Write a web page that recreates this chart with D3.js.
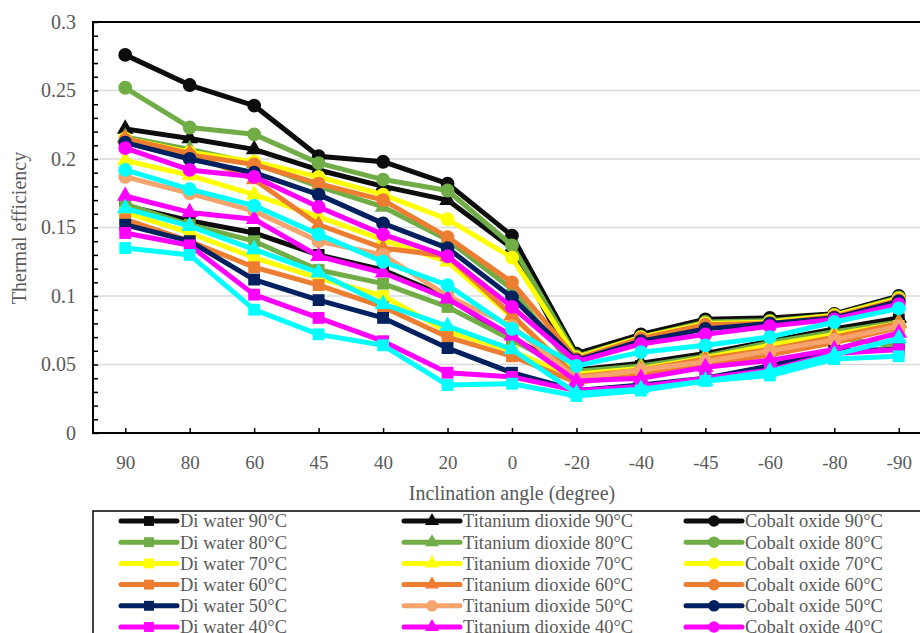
<!DOCTYPE html>
<html>
<head>
<meta charset="utf-8">
<script src="https://cdn.jsdelivr.net/npm/d3@7"></script>
<style>
  html, body { margin: 0; padding: 0; background: #fff; }
  svg { display: block; }
  svg text { font-family: "Liberation Serif", "Times New Roman", serif; }
</style>
</head>
<body>
<svg id="chart" width="920" height="633"></svg>
<script>
// Inclination angles (categories along the x axis)
const angles = ["90", "80", "60", "45", "40", "20", "0", "-20", "-40", "-45", "-60", "-80", "-90"];

// Thermal efficiency — distilled water
const diWater90 = [0.166, 0.155, 0.146, 0.130, 0.119, 0.099, 0.069, 0.045, 0.049, 0.057, 0.064, 0.075, 0.083];
const diWater80 = [0.167, 0.152, 0.140, 0.119, 0.109, 0.092, 0.068, 0.043, 0.046, 0.054, 0.062, 0.070, 0.063];
const diWater70 = [0.161, 0.146, 0.128, 0.113, 0.100, 0.074, 0.060, 0.040, 0.044, 0.052, 0.058, 0.066, 0.078];
const diWater60 = [0.156, 0.140, 0.121, 0.108, 0.092, 0.070, 0.056, 0.037, 0.042, 0.050, 0.057, 0.066, 0.077];
const diWater50 = [0.152, 0.140, 0.112, 0.097, 0.084, 0.062, 0.044, 0.031, 0.035, 0.040, 0.049, 0.060, 0.061];
const diWater40 = [0.146, 0.137, 0.101, 0.084, 0.067, 0.044, 0.041, 0.031, 0.034, 0.040, 0.046, 0.058, 0.061];
const diWater30 = [0.135, 0.130, 0.090, 0.072, 0.064, 0.035, 0.036, 0.027, 0.031, 0.038, 0.042, 0.054, 0.056];

// Thermal efficiency — titanium dioxide nanofluid
const tio2_90 = [0.222, 0.215, 0.207, 0.192, 0.180, 0.170, 0.135, 0.046, 0.051, 0.058, 0.067, 0.076, 0.084];
const tio2_80 = [0.216, 0.207, 0.197, 0.180, 0.165, 0.141, 0.105, 0.045, 0.049, 0.056, 0.066, 0.074, 0.081];
const tio2_70 = [0.199, 0.188, 0.174, 0.158, 0.141, 0.125, 0.085, 0.043, 0.047, 0.055, 0.064, 0.072, 0.080];
const tio2_60 = [0.215, 0.204, 0.185, 0.152, 0.135, 0.129, 0.086, 0.041, 0.046, 0.054, 0.061, 0.070, 0.080];
const tio2_50 = [0.187, 0.175, 0.162, 0.140, 0.130, 0.100, 0.078, 0.040, 0.046, 0.052, 0.060, 0.068, 0.078];
const tio2_40 = [0.173, 0.161, 0.156, 0.129, 0.117, 0.098, 0.071, 0.038, 0.040, 0.048, 0.053, 0.061, 0.073];
const tio2_30 = [0.164, 0.151, 0.134, 0.117, 0.094, 0.078, 0.061, 0.029, 0.032, 0.038, 0.045, 0.057, 0.069];

// Thermal efficiency — cobalt oxide nanofluid
const co3o4_90 = [0.276, 0.254, 0.239, 0.202, 0.198, 0.182, 0.144, 0.058, 0.072, 0.083, 0.084, 0.087, 0.100];
const co3o4_80 = [0.252, 0.223, 0.218, 0.197, 0.185, 0.177, 0.137, 0.056, 0.070, 0.081, 0.082, 0.086, 0.099];
const co3o4_70 = [0.215, 0.205, 0.198, 0.187, 0.174, 0.156, 0.128, 0.055, 0.070, 0.080, 0.081, 0.086, 0.098];
const co3o4_60 = [0.214, 0.203, 0.196, 0.182, 0.170, 0.143, 0.110, 0.054, 0.069, 0.079, 0.080, 0.085, 0.097];
const co3o4_50 = [0.212, 0.200, 0.190, 0.174, 0.153, 0.135, 0.099, 0.053, 0.067, 0.076, 0.080, 0.084, 0.096];
const co3o4_40 = [0.208, 0.192, 0.187, 0.165, 0.145, 0.129, 0.092, 0.052, 0.065, 0.072, 0.078, 0.083, 0.094];
const co3o4_30 = [0.192, 0.178, 0.166, 0.145, 0.125, 0.108, 0.076, 0.049, 0.059, 0.064, 0.070, 0.081, 0.091];

// Y axis tick labels
const yTicks = [0, 0.05, 0.1, 0.15, 0.2, 0.25, 0.3];

// Colours per inlet temperature
const C = {
  t90: "#0d0d0d", t80: "#70AD47", t70: "#FFFF00", t60: "#ED7D31",
  t50: "#002060", t40: "#FF00FF", t30: "#00FFFF", light: "#F4A46C"
};

// Series in legend/draw order
const series = [
  { name: "Di water 90°C", values: diWater90, color: C.t90, shape: "square" },
  { name: "Titanium dioxide 90°C", values: tio2_90, color: C.t90, shape: "triangle" },
  { name: "Cobalt oxide 90°C", values: co3o4_90, color: C.t90, shape: "circle" },
  { name: "Di water 80°C", values: diWater80, color: C.t80, shape: "square" },
  { name: "Titanium dioxide 80°C", values: tio2_80, color: C.t80, shape: "triangle" },
  { name: "Cobalt oxide 80°C", values: co3o4_80, color: C.t80, shape: "circle" },
  { name: "Di water 70°C", values: diWater70, color: C.t70, shape: "square" },
  { name: "Titanium dioxide 70°C", values: tio2_70, color: C.t70, shape: "triangle" },
  { name: "Cobalt oxide 70°C", values: co3o4_70, color: C.t70, shape: "circle" },
  { name: "Di water 60°C", values: diWater60, color: C.t60, shape: "square" },
  { name: "Titanium dioxide 60°C", values: tio2_60, color: C.t60, shape: "triangle" },
  { name: "Cobalt oxide 60°C", values: co3o4_60, color: C.t60, shape: "circle" },
  { name: "Di water 50°C", values: diWater50, color: C.t50, shape: "square" },
  { name: "Titanium dioxide 50°C", values: tio2_50, color: C.light, shape: "circle" },
  { name: "Cobalt oxide 50°C", values: co3o4_50, color: C.t50, shape: "circle" },
  { name: "Di water 40°C", values: diWater40, color: C.t40, shape: "square" },
  { name: "Titanium dioxide 40°C", values: tio2_40, color: C.t40, shape: "triangle" },
  { name: "Cobalt oxide 40°C", values: co3o4_40, color: C.t40, shape: "circle" },
  { name: "Di water 30°C", values: diWater30, color: C.t30, shape: "square" },
  { name: "Titanium dioxide 30°C", values: tio2_30, color: C.t30, shape: "triangle" },
  { name: "Cobalt oxide 30°C", values: co3o4_30, color: C.t30, shape: "circle" }
];

const svg = d3.select("#chart");
const plot = { left: 93, right: 931, top: 22, bottom: 433 };
const textColor = "#595959";
const serif = "Liberation Serif";

const x = d3.scalePoint().domain(angles).range([plot.left, plot.right]).padding(0.5);
const y = d3.scaleLinear().domain([0, 0.3]).range([plot.bottom, plot.top]);

const symbolType = { square: d3.symbolSquare, triangle: d3.symbolTriangle, circle: d3.symbolCircle };
const symbolSize = { square: 140, triangle: 120, circle: 150 };

// Horizontal gridlines
svg.append("g")
  .selectAll("line")
  .data(yTicks.slice(1))
  .join("line")
  .attr("x1", plot.left).attr("x2", plot.right)
  .attr("y1", d => y(d)).attr("y2", d => y(d))
  .attr("stroke", "#d9d9d9").attr("stroke-width", 1.5);

// Plot frame
svg.append("rect")
  .attr("x", plot.left).attr("y", plot.top)
  .attr("width", plot.right - plot.left).attr("height", plot.bottom - plot.top)
  .attr("fill", "none").attr("stroke", "#000").attr("stroke-width", 2);

// Y axis: minor inward ticks every 0.01 and labels every 0.05
const yMinor = d3.axisLeft(y).tickValues(d3.range(0, 0.3001, 0.01)).tickSize(-5).tickFormat("");
svg.append("g").attr("transform", `translate(${plot.left},0)`).call(yMinor)
  .call(g => g.select(".domain").remove())
  .call(g => g.selectAll(".tick line").attr("stroke", "#000").attr("stroke-width", 1.5));

const yAxis = d3.axisLeft(y).tickValues(yTicks).tickSize(0).tickPadding(17)
  .tickFormat(d => String(+d.toFixed(2)));
svg.append("g").attr("transform", `translate(${plot.left},0)`).call(yAxis)
  .attr("font-family", serif).attr("font-size", 20)
  .call(g => g.select(".domain").remove())
  .call(g => g.selectAll("text").attr("fill", textColor));

// X axis: inward ticks at each category and labels below
const xAxis = d3.axisBottom(x).tickSize(-5).tickPadding(0);
svg.append("g").attr("transform", `translate(0,${plot.bottom})`).call(xAxis)
  .attr("font-family", serif).attr("font-size", 19)
  .call(g => g.select(".domain").remove())
  .call(g => g.selectAll(".tick line").attr("stroke", "#000").attr("stroke-width", 1.5))
  .call(g => g.selectAll("text").attr("fill", textColor).attr("y", 0).attr("dy", "36px"));

// Axis titles
svg.append("text")
  .attr("x", 512).attr("y", 500)
  .attr("text-anchor", "middle").attr("fill", textColor)
  .attr("font-family", serif).attr("font-size", 20)
  .text("Inclination angle (degree)");

svg.append("text")
  .attr("transform", "translate(26,228) rotate(-90)")
  .attr("text-anchor", "middle").attr("fill", textColor)
  .attr("font-family", serif).attr("font-size", 20)
  .text("Thermal efficiency");

// Series lines and markers
const line = d3.line().x((d, i) => x(angles[i])).y(d => y(d));
const seriesG = svg.append("g");
series.forEach(s => {
  const g = seriesG.append("g");
  g.append("path")
    .attr("d", line(s.values))
    .attr("fill", "none").attr("stroke", s.color)
    .attr("stroke-width", 5).attr("stroke-linejoin", "round");
  g.selectAll("path.m")
    .data(s.values)
    .join("path").attr("class", "m")
    .attr("transform", (d, i) => `translate(${x(angles[i])},${y(d)})`)
    .attr("d", d3.symbol(symbolType[s.shape], symbolSize[s.shape]))
    .attr("fill", s.color);
});

// Legend box and entries (three columns)
const legend = svg.append("g").attr("font-family", serif);
legend.append("rect")
  .attr("x", 93).attr("y", 511).attr("width", 860).attr("height", 200)
  .attr("fill", "#fff").attr("stroke", "#000").attr("stroke-width", 1.5);

const colX = [121, 404, 686];
const rowY0 = 521, rowStep = 21.2;
series.forEach((s, i) => {
  const col = i % 3, row = Math.floor(i / 3);
  const lx = colX[col], ly = rowY0 + row * rowStep;
  const g = legend.append("g").attr("transform", `translate(${lx},${ly})`);
  g.append("line").attr("x1", 0).attr("x2", 56).attr("y1", 0).attr("y2", 0)
    .attr("stroke", s.color).attr("stroke-width", 5).attr("stroke-linecap", "round");
  g.append("path").attr("transform", "translate(28,0)")
    .attr("d", d3.symbol(symbolType[s.shape], symbolSize[s.shape] * 0.7))
    .attr("fill", s.color);
  g.append("text").attr("x", 59).attr("y", 0).attr("dy", "0.35em")
    .attr("fill", textColor).attr("font-size", 18.5)
    .text(s.name);
});
</script>
</body>
</html>
